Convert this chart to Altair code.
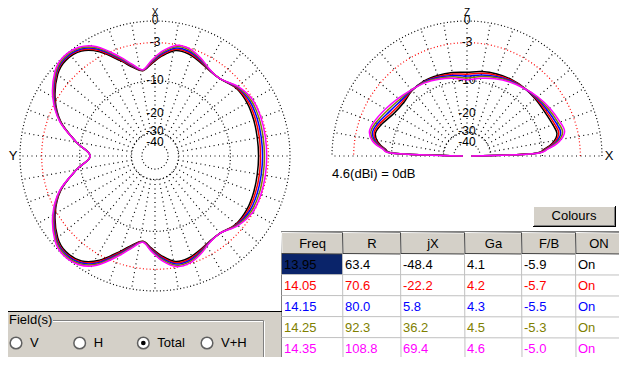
import math
import altair as alt
import pandas as pd

# ---------------- data ----------------
FREQS = ["13.95", "14.05", "14.15", "14.25", "14.35"]
R_OHM = [63.4, 70.6, 80.0, 92.3, 108.8]
JX_OHM = [-48.4, -22.2, 5.8, 36.2, 69.4]
GA_DBI = [4.1, 4.2, 4.3, 4.5, 4.6]
FB_DB = [-5.9, -5.7, -5.5, -5.3, -5.0]
ON_STATE = ["On", "On", "On", "On", "On"]
SERIES_COLORS = ["#000000", "#ff0000", "#0000ff", "#808000", "#ff00ff"]
TABLE_HEADERS = ["Freq", "R", "jX", "Ga", "F/B", "ON"]
FIELD_OPTIONS = ["V", "H", "Total", "V+H"]
FIELD_SELECTED = "Total"
GAIN_NOTE = "4.6(dBi) = 0dB"
BUTTON_TEXT = "Colours"
GROUP_TEXT = "Field(s)"

RING_DB = [0, -10, -30, -40]
RED_RING_DB = [-3]
RING_LABEL_DB = [0, -3, -10, -20, -30, -40]
SPOKE_FROM_DB = -30

# horizontal (azimuth) pattern, upper half, deg clockwise from X; lower half is its mirror
AZ_ANGLES = [-90, -80, -70, -60, -50, -43, -35, -28, -20, -14, -8, -2, 4, 11, 18, 25, 32, 40, 50, 60, 70, 80, 90]
AZ_1395 = [-12.6, -9.0, -5.1, -2.7, -1.05, -0.55, -0.9, -2.3, -4.9, -6.7, -7.7, -6.5, -5.1, -3.9, -3.9, -4.4, -4.9, -5.0, -4.2, -4.1, -4.3, -4.5, -4.55]
AZ_1405 = [-12.6, -9.0, -5.05, -2.6, -0.9, -0.4, -0.75, -2.1, -4.7, -6.55, -7.65, -6.35, -4.9, -3.7, -3.7, -4.25, -4.85, -5.0, -4.1, -3.85, -4.0, -4.15, -4.25]
AZ_1415 = [-12.6, -9.0, -5.0, -2.5, -0.8, -0.3, -0.6, -1.9, -4.5, -6.4, -7.6, -6.2, -4.7, -3.5, -3.5, -4.1, -4.8, -5.0, -4.0, -3.6, -3.7, -3.85, -3.9]
AZ_1425 = [-12.6, -9.0, -4.95, -2.4, -0.7, -0.15, -0.45, -1.7, -4.3, -6.25, -7.55, -6.05, -4.5, -3.3, -3.3, -3.95, -4.75, -5.0, -3.9, -3.35, -3.4, -3.55, -3.6]
AZ_1435 = [-12.6, -9.0, -4.9, -2.3, -0.55, 0.0, -0.3, -1.5, -4.1, -6.1, -7.5, -5.9, -4.3, -3.1, -3.1, -3.8, -4.7, -5.0, -3.8, -3.1, -3.1, -3.2, -3.25]
AZ_DB = [AZ_1395, AZ_1405, AZ_1415, AZ_1425, AZ_1435]

# vertical (elevation) pattern, deg from X horizon
EL_ANGLES = [0, 2, 5, 9, 14, 20, 30, 40, 50, 60, 70, 80, 90, 100, 110, 120, 130, 140, 150, 160, 166, 171, 175, 178, 180]
EL_1395 = [-60, -12.5, -9.5, -7.5, -6.45, -6.7, -7.1, -7.15, -7.15, -7.25, -7.5, -7.8, -8.2, -8.0, -7.8, -7.65, -7.85, -8.4, -8.0, -6.7, -6.15, -6.9, -8.5, -11.2, -60]
EL_1405 = [-60, -12.4, -9.3, -7.2, -6.1, -6.35, -6.8, -7.0, -7.2, -7.4, -7.75, -8.15, -8.6, -8.3, -8.0, -7.75, -7.8, -8.05, -7.55, -6.35, -5.9, -6.65, -8.35, -11.1, -60]
EL_1415 = [-60, -12.3, -9.1, -6.9, -5.75, -6.0, -6.5, -6.85, -7.2, -7.55, -8.0, -8.5, -9.0, -8.6, -8.2, -7.85, -7.75, -7.7, -7.1, -6.0, -5.6, -6.4, -8.2, -11.0, -60]
EL_1425 = [-60, -12.2, -8.9, -6.6, -5.4, -5.65, -6.2, -6.7, -7.2, -7.7, -8.25, -8.85, -9.4, -8.9, -8.4, -7.95, -7.7, -7.35, -6.65, -5.65, -5.3, -6.15, -8.05, -10.9, -60]
EL_1435 = [-60, -12.1, -8.7, -6.3, -5.05, -5.3, -5.9, -6.55, -7.25, -7.85, -8.5, -9.2, -9.8, -9.2, -8.6, -8.05, -7.65, -7.0, -6.2, -5.3, -5.05, -5.9, -7.9, -10.8, -60]
EL_DB = [EL_1395, EL_1405, EL_1415, EL_1425, EL_1435]

# ---------------- layout / style ----------------
FONT = "Liberation Sans"
GRAY = "#d4d0c8"
OFF = 8


def px(v):
    return v - OFF


def arrl(db):
    return 0.89 ** (-db / 2.0)


AZ_CX, EL_CX, CY, RAD = 155, 467, 156, 135
AZX = alt.Scale(domain=[-1, 1], range=[px(AZ_CX - RAD), px(AZ_CX + RAD)], nice=False, zero=False)
ELX = alt.Scale(domain=[-1, 1], range=[px(EL_CX - RAD), px(EL_CX + RAD)], nice=False, zero=False)
PY = alt.Scale(domain=[-1, 1], range=[px(CY + RAD), px(CY - RAD)], nice=False, zero=False)
TX = alt.Scale(domain=[0, 1, 2, 3, 4, 5, 6], range=[px(v) for v in [282, 343, 401, 465, 522, 576, 622]], nice=False, zero=False)
TY = alt.Scale(domain=[0, 6], range=[px(233), px(359)], nice=False, zero=False)
FX = alt.Scale(domain=[0, 3], range=[px(16), px(207)], nice=False, zero=False)


def xy(xs):
    return dict(x=alt.X("x:Q", scale=xs, axis=None), y=alt.Y("y:Q", scale=PY, axis=None))


def rings(dbs, half):
    rows = []
    top = 180 if half else 360
    for db in dbs:
        r = arrl(db)
        for a in range(0, top + 1, 2):
            t = math.radians(a)
            if half:
                x, y = r * math.cos(t), r * math.sin(t)
            else:
                x, y = r * math.sin(t), r * math.cos(t)
            rows.append({"ring": db, "a": a, "x": x, "y": y})
    return pd.DataFrame(rows)


def spokes(half):
    rows = []
    top = 180 if half else 350
    for a in range(0, top + 1, 10):
        t = math.radians(a)
        for r in [arrl(SPOKE_FROM_DB), 1.0]:
            if half:
                x, y = r * math.cos(t), r * math.sin(t)
            else:
                x, y = r * math.sin(t), r * math.cos(t)
            rows.append({"a": a, "r": r, "x": x, "y": y})
    return pd.DataFrame(rows)


labels_df = pd.DataFrame({"t": [str(d) for d in RING_LABEL_DB], "x": 0.0, "y": [arrl(d) for d in RING_LABEL_DB]})

layers = []

# ---- window chrome ----
fill_rects = pd.DataFrame([
    (-2, -2, 624, 312, "#ffffff"),
    (533, 206, 616, 227, "#000000"),
    (533, 206, 615, 226, "#ffffff"),
    (534, 207, 615, 226, "#808080"),
    (534, 207, 614, 225, GRAY),
    (281, 231, 624, 362, "#808080"),
    (282, 232, 624, 362, "#000000"),
], columns=["x", "y", "x2", "y2", "c"])
for col in ["x", "y", "x2", "y2"]:
    fill_rects[col] = fill_rects[col] - OFF
layers.append(alt.Chart(fill_rects).mark_rect().encode(
    x=alt.X("x:Q", scale=None), x2="x2:Q", y=alt.Y("y:Q", scale=None), y2="y2:Q",
    fill=alt.Fill("c:N", scale=None)))

line_rects = pd.DataFrame([
    (-1.5, -1.5, 623.5, 311.5, "#000000"),
    (4.5, 321.5, 264.5, 363.5, "#ffffff"),
    (3.5, 320.5, 263.5, 362.5, "#808080"),
], columns=["x", "y", "x2", "y2", "c"])
for col in ["x", "y", "x2", "y2"]:
    line_rects[col] = line_rects[col] - OFF
layers.append(alt.Chart(line_rects).mark_rect(filled=False, strokeWidth=1).encode(
    x=alt.X("x:Q", scale=None), x2="x2:Q", y=alt.Y("y:Q", scale=None), y2="y2:Q",
    stroke=alt.Stroke("c:N", scale=None)))
layers.append(alt.Chart(pd.DataFrame({"a": [0]})).mark_rect(fill=GRAY).encode(
    x=alt.value(px(7)), x2=alt.value(px(53)), y=alt.value(px(313)), y2=alt.value(px(328))))

# ---- grids ----
for xs, half in [(AZX, False), (ELX, True)]:
    layers.append(alt.Chart(rings(RING_DB, half)).mark_line(color="#000000", strokeWidth=1.2, strokeDash=[1, 2.4]).encode(
        detail="ring:N", order="a:Q", **xy(xs)))
    layers.append(alt.Chart(rings(RED_RING_DB, half)).mark_line(color="#ff0000", strokeWidth=1.2, strokeDash=[1, 2.4]).encode(
        detail="ring:N", order="a:Q", **xy(xs)))
    layers.append(alt.Chart(spokes(half)).mark_line(color="#000000", strokeWidth=1.2, strokeDash=[1, 3.5]).encode(
        detail="a:N", order="r:Q", **xy(xs)))
    layers.append(alt.Chart(labels_df).mark_text(fontSize=12, align="center", baseline="middle", dy=-1, color="#000000").encode(
        text="t:N", **xy(xs)))

# ---- axis letters ----
letters = [("X", 155, 13, 10), ("Y", 13, 156, 13), ("Z", 467, 13, 10), ("X", 609, 156, 13)]
for t, lx, ly, fs in letters:
    layers.append(alt.Chart(pd.DataFrame({"t": [t]})).mark_text(fontSize=fs, align="center", baseline="middle").encode(
        text="t:N", x=alt.value(px(lx)), y=alt.value(px(ly))))

# ---- patterns ----
az_rows, el_rows = [], []
for f, vals in zip(FREQS, AZ_DB):
    n = len(AZ_ANGLES)
    seq = [(AZ_ANGLES[i], vals[i]) for i in range(n)]
    seq += [(180 - AZ_ANGLES[i], vals[i]) for i in range(n - 2, 0, -1)]
    for k, (a, d) in enumerate(seq):
        az_rows.append({"freq": f, "k": k, "ang": a, "db": d})
for f, vals in zip(FREQS, EL_DB):
    for k, (a, d) in enumerate(zip(EL_ANGLES, vals)):
        el_rows.append({"freq": f, "k": k, "ang": a, "db": d})
az_df = pd.DataFrame(az_rows)
el_df = pd.DataFrame(el_rows)

for f, c in zip(FREQS, SERIES_COLORS):
    layers.append(alt.Chart(az_df[az_df.freq == f]).transform_calculate(
        r="pow(0.89, -datum.db / 2)",
        x="datum.r * sin(datum.ang * PI / 180)",
        y="datum.r * cos(datum.ang * PI / 180)",
    ).mark_line(color=c, strokeWidth=1.5, interpolate="cardinal-closed").encode(order="k:Q", **xy(AZX)))
for f, c in zip(FREQS, SERIES_COLORS):
    layers.append(alt.Chart(el_df[el_df.freq == f]).transform_calculate(
        r="pow(0.89, -datum.db / 2)",
        x="datum.r * cos(datum.ang * PI / 180)",
        y="datum.r * sin(datum.ang * PI / 180)",
    ).mark_line(color=c, strokeWidth=1.5, interpolate="cardinal").encode(order="k:Q", **xy(ELX)))

layers.append(alt.Chart(pd.DataFrame({"t": [GAIN_NOTE]})).mark_text(fontSize=13, align="left", baseline="middle").encode(
    text="t:N", x=alt.value(px(332)), y=alt.value(px(174))))

# ---- Colours button text ----
layers.append(alt.Chart(pd.DataFrame({"t": [BUTTON_TEXT]})).mark_text(fontSize=13, align="center", baseline="middle").encode(
    text="t:N", x=alt.value(px(574)), y=alt.value(px(216))))

# ---- table ----
head_df = pd.DataFrame({"c": list(range(6)), "c2": [i + 1 for i in range(6)], "cm": [i + 0.5 for i in range(6)],
                        "t": TABLE_HEADERS, "r": 0, "r2": 1, "rm": 0.5})
cells = []
for i, f in enumerate(FREQS):
    vals = [f, f"{R_OHM[i]:.1f}", f"{JX_OHM[i]:.1f}", f"{GA_DBI[i]:.1f}", f"{FB_DB[i]:.1f}", ON_STATE[i]]
    for j, v in enumerate(vals):
        sel = (i == 0 and j == 0)
        cells.append({"c": j, "c2": j + 1, "r": i + 1, "r2": i + 2, "rm": i + 1.5, "t": v,
                      "color": SERIES_COLORS[i], "fill": "#0a246a" if sel else "#ffffff"})
cell_df = pd.DataFrame(cells)

tenc = dict(x=alt.X("c:Q", scale=TX, axis=None), x2="c2:Q", y=alt.Y("r:Q", scale=TY, axis=None), y2="r2:Q")
layers.append(alt.Chart(head_df).mark_rect(fill=GRAY).encode(**tenc))
layers.append(alt.Chart(cell_df).mark_rect().encode(fill=alt.Fill("fill:N", scale=None), **tenc))

edges = []
for j in range(6):
    edges.append({"x": j, "x2": j, "y": 0, "y2": 1, "col": "#ffffff"})
    edges.append({"x": j, "x2": j + 1, "y": 0, "y2": 0, "col": "#ffffff"})
for j in range(6):
    edges.append({"x": j + 1, "x2": j + 1, "y": 0, "y2": 1, "col": "#404040"})
    edges.append({"x": j, "x2": j + 1, "y": 1, "y2": 1, "col": "#404040"})
for j in range(1, 6):
    edges.append({"x": j, "x2": j, "y": 1, "y2": 6, "col": "#c0c0c0"})
for i in range(2, 7):
    edges.append({"x": 0, "x2": 6, "y": i, "y2": i, "col": "#c0c0c0"})
edge_df = pd.DataFrame(edges)
layers.append(alt.Chart(edge_df).mark_rule(strokeWidth=1, xOffset=-0.5, yOffset=-0.5).encode(
    x=alt.X("x:Q", scale=TX, axis=None), x2="x2:Q", y=alt.Y("y:Q", scale=TY, axis=None), y2="y2:Q",
    color=alt.Color("col:N", scale=None)))

layers.append(alt.Chart(head_df).mark_text(fontSize=13, align="center", baseline="middle", color="#000000").encode(
    text="t:N", x=alt.X("cm:Q", scale=TX, axis=None), y=alt.Y("rm:Q", scale=TY, axis=None)))
layers.append(alt.Chart(cell_df).mark_text(fontSize=13, align="left", baseline="middle", dx=2).encode(
    text="t:N", x=alt.X("c:Q", scale=TX, axis=None), y=alt.Y("rm:Q", scale=TY, axis=None),
    color=alt.Color("color:N", scale=None)))

# ---- Field(s) radio group ----
layers.append(alt.Chart(pd.DataFrame({"t": [GROUP_TEXT]})).mark_text(fontSize=13, align="left", baseline="middle").encode(
    text="t:N", x=alt.value(px(9)), y=alt.value(px(320))))
radio_df = pd.DataFrame({"i": list(range(len(FIELD_OPTIONS))), "t": FIELD_OPTIONS,
                         "sel": [o == FIELD_SELECTED for o in FIELD_OPTIONS]})
layers.append(alt.Chart(radio_df).mark_point(shape="circle", size=135, filled=True, fill="#ffffff",
                                             stroke="#606060", strokeWidth=1.5, opacity=1).encode(
    x=alt.X("i:Q", scale=FX, axis=None), y=alt.value(px(343))))
layers.append(alt.Chart(radio_df[radio_df.sel]).mark_point(shape="circle", size=22, filled=True, color="#000000", opacity=1).encode(
    x=alt.X("i:Q", scale=FX, axis=None), y=alt.value(px(343))))
layers.append(alt.Chart(radio_df).mark_text(fontSize=13, align="left", baseline="middle", dx=14).encode(
    text="t:N", x=alt.X("i:Q", scale=FX, axis=None), y=alt.value(px(343))))

chart = alt.layer(*layers).resolve_scale(x="independent", y="independent").properties(
    width=611, height=349, padding=0, autosize=alt.AutoSizeParams(type="none"), background=GRAY
).configure_view(stroke=None).configure_text(font=FONT)

chart.save("out.html", embed_options={"renderer": "svg", "actions": False})
